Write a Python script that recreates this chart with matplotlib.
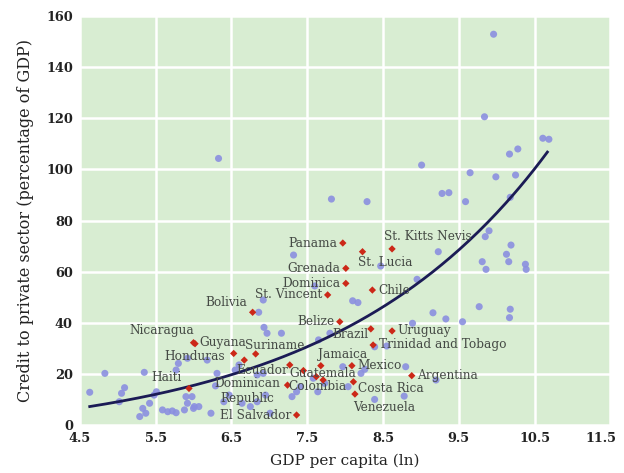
import numpy as np
import matplotlib
matplotlib.use("Agg")
import matplotlib.pyplot as plt
from matplotlib.transforms import ScaledTranslation

# Other countries (blue): log GDP per capita, private credit (% of GDP)
other_gdp = [4.63, 4.83, 5.02, 5.05, 5.09, 5.29, 5.33, 5.37, 5.35, 5.42, 5.48, 5.51,
             5.59, 5.66, 5.72, 5.77, 5.77, 5.80, 5.92, 5.90, 5.98, 5.92, 6.01, 6.07,
             5.88, 6.00, 6.18, 6.23, 6.29, 6.31, 6.40, 6.47, 6.55, 6.60, 6.64, 6.75,
             6.84, 6.95, 7.01, 6.84, 6.92, 6.86, 6.93, 6.97, 7.16, 6.92, 7.32, 6.33,
             7.30, 7.36, 7.41, 7.58, 7.65, 7.60, 7.64, 7.73, 7.80,
             7.82, 8.29, 7.97, 8.04, 8.21, 8.26, 8.39, 8.78, 8.80, 9.20, 8.39, 8.55,
             8.89, 8.10, 8.17, 8.47, 8.95, 9.01, 9.16, 9.23, 9.28, 9.37, 9.33,
             9.55, 9.59, 9.65, 9.77, 9.81, 9.86, 9.84, 9.85, 9.90, 9.96, 9.99, 10.13,
             10.16, 10.17, 10.18, 10.19, 10.25, 10.28, 10.18, 10.17, 10.38, 10.39,
             10.61, 10.69]
other_credit = [12.8, 20.2, 9.1, 12.4, 14.6, 3.3, 6.5, 4.6, 20.6, 8.5, 11.7, 13.0,
                5.9, 5.2, 5.5, 4.8, 21.5, 24.1, 26.1, 11.1, 11.1, 8.5, 7.2, 7.2,
                5.9, 6.5, 25.4, 4.6, 15.3, 20.2, 9.1, 11.7, 21.5, 23.5, 8.5, 7.2,
                9.1, 11.7, 4.6, 19.6, 20.2, 44.1, 38.2, 35.9, 35.9, 48.9, 66.5, 104.3,
                11.1, 13.0, 15.0, 18.3, 33.3, 54.4, 13.0, 16.3, 35.9,
                88.4, 87.4, 22.8, 15.0, 20.2, 21.8, 10.0, 11.3, 22.8, 17.6, 30.6, 30.9,
                39.8, 48.6, 47.9, 62.2, 57.0, 101.7, 43.9, 67.8, 90.6, 90.9, 41.5,
                40.4, 87.4, 98.7, 46.3, 63.9, 60.9, 120.6, 73.7, 76.0, 152.9, 97.1, 66.8,
                63.9, 106.0, 89.1, 70.4, 97.8, 108.0, 45.3, 42.0, 62.9, 60.9,
                112.2, 111.8]

# Latin America and the Caribbean (red)
lac_names = ["Panama", "St. Lucia", "St. Kitts Nevis", "Grenada", "Dominica",
             "St. Vincent", "Chile", "Bolivia", "Belize", "Brazil", "Uruguay",
             "Trinidad and Tobago", "Guyana", "Nicaragua", "Honduras", "", "Suriname",
             "Haiti", "Ecuador", "Jamaica", "Guatemala", "Colombia", "",
             "Dominican\nRepublic", "Mexico", "Costa Rica", "Venezuela", "Argentina",
             "El Salvador"]
lac_gdp = [7.97, 8.23, 8.62, 8.01, 8.01, 7.77, 8.36, 6.78, 7.93, 8.34, 8.62,
           8.37, 6.02, 6.00, 6.53, 6.67, 6.82, 5.94, 7.27, 7.68, 7.45, 7.62, 7.71,
           7.24, 8.09, 8.11, 8.13, 8.88, 7.36]
lac_credit = [71.2, 67.8, 68.9, 61.3, 55.4, 50.9, 52.8, 44.1, 40.4, 37.6, 36.8,
              31.3, 31.8, 32.2, 28.0, 25.4, 27.8, 14.3, 23.5, 23.2, 21.3, 18.9, 17.6,
              15.6, 23.2, 16.9, 12.1, 19.3, 3.9]

# Exponential trend: credit = a * exp(b * lnGDP) + c
trend_a, trend_b, trend_c = 2.554, 0.355, -6.0
trend_range = (4.63, 10.67)

x_ticks = [4.5, 5.5, 6.5, 7.5, 8.5, 9.5, 10.5, 11.5]
y_ticks = [0, 20, 40, 60, 80, 100, 120, 140, 160]

# label placement (offset in points, horizontal alignment)
label_place = {
    "Panama": ((-4, 0), "right"),
    "St. Lucia": ((-3, -8), "left"),
    "St. Kitts Nevis": ((-6, 9), "left"),
    "Grenada": ((-4, 0), "right"),
    "Dominica": ((-4, 0), "right"),
    "St. Vincent": ((-4, 0), "right"),
    "Chile": ((4, 0), "left"),
    "Bolivia": ((-4, 7), "right"),
    "Belize": ((-4, 0), "right"),
    "Brazil": ((-2, -4), "right"),
    "Uruguay": ((4, 0), "left"),
    "Trinidad and Tobago": ((4, 0), "left"),
    "Guyana": ((3, 1), "left"),
    "Nicaragua": ((-23, 9), "center"),
    "Honduras": ((-6, -2), "right"),
    "Suriname": ((-8, 6), "left"),
    "Haiti": ((-5, 8), "right"),
    "Ecuador": ((-1, -4), "right"),
    "Jamaica": ((-2, 8), "left"),
    "Guatemala": ((-10, -2), "left"),
    "Colombia": ((-20, -7), "left"),
    "Dominican\nRepublic": ((-29, -4), "center"),
    "Mexico": ((4, 0), "left"),
    "Costa Rica": ((3, -5), "left"),
    "Venezuela": ((-1, -10), "left"),
    "Argentina": ((4, 0), "left"),
    "El Salvador": ((-4, 0), "right"),
}

plt.rcParams["font.family"] = ["DejaVu Serif"]

fig = plt.figure(figsize=(6.24, 4.73), dpi=100)
ax = fig.add_axes([0.128, 0.1015, 0.85, 0.8645])
ax.set_facecolor("#d8edd2")
for s in ax.spines.values():
    s.set_visible(False)
ax.grid(True, color="white", linewidth=1.8)
ax.set_axisbelow(True)

ax.scatter(other_gdp, other_credit, s=26, color="#8b8fe0", alpha=0.9,
           edgecolors="none", zorder=2)
ax.scatter(lac_gdp, lac_credit, s=14, marker="D", color="#cc2818",
           edgecolors="none", zorder=4)

xs = np.linspace(trend_range[0], trend_range[1], 200)
ax.plot(xs, trend_a * np.exp(trend_b * xs) + trend_c, color="#1b1b55",
        linewidth=2, zorder=3)

for name, gx, gy in zip(lac_names, lac_gdp, lac_credit):
    if not name:
        continue
    (dx, dy), ha = label_place[name]
    ax.annotate(name, (gx, gy), xytext=(dx, dy), textcoords="offset points",
                ha=ha, va="center", fontsize=8.7, color="#454a45",
                multialignment="center", zorder=5)

ax.set_xlim(4.5, 11.5)
ax.set_ylim(0, 160)
ax.set_xticks(x_ticks)
ax.set_yticks(y_ticks)
ax.set_xticklabels([f"{t:.1f}" for t in x_ticks], fontweight="bold", fontsize=9.3)
ax.set_yticklabels([str(t) for t in y_ticks], fontweight="bold", fontsize=9.3)
ax.tick_params(length=0, pad=5, colors="#222222")
# pull the last x tick label slightly inward so it stays on the canvas
last = ax.get_xticklabels()[-1]
last.set_transform(last.get_transform() +
                   ScaledTranslation(-7 / 72, 0, fig.dpi_scale_trans))
ax.set_xlabel("GDP per capita (ln)", fontsize=11, color="#222222", labelpad=6)
ax.set_ylabel("Credit to private sector (percentage of GDP)", fontsize=11.5,
              color="#222222", labelpad=9)

fig.savefig("out.png", dpi=100, facecolor="white")
